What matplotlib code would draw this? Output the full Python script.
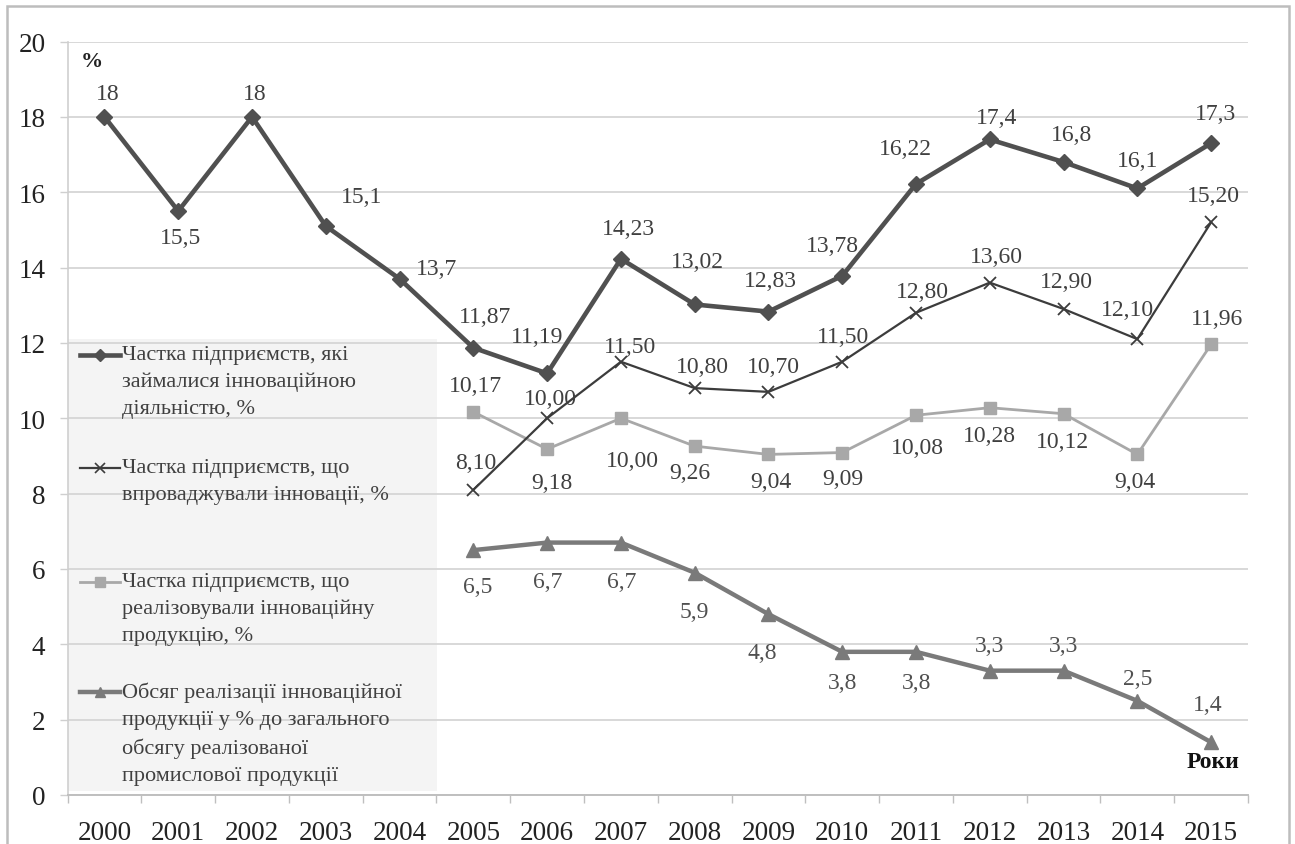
import matplotlib.pyplot as plt
from matplotlib.patches import Rectangle
from matplotlib.lines import Line2D

years = [str(y) for y in range(2000, 2016)]

# частка підприємств, які займалися інноваційною діяльністю (2000-2015)
active = [18, 15.5, 18, 15.1, 13.7, 11.87, 11.19, 14.23, 13.02, 12.83,
          13.78, 16.22, 17.4, 16.8, 16.1, 17.3]
active_lbl = ['18', '15,5', '18', '15,1', '13,7', '11,87', '11,19', '14,23',
              '13,02', '12,83', '13,78', '16,22', '17,4', '16,8', '16,1', '17,3']

# решта рядів починаються з 2005 року
implemented = [8.10, 10.00, 11.50, 10.80, 10.70, 11.50, 12.80, 13.60, 12.90, 12.10, 15.20]
implemented_lbl = ['8,10', '10,00', '11,50', '10,80', '10,70', '11,50', '12,80',
                   '13,60', '12,90', '12,10', '15,20']

sold = [10.17, 9.18, 10.00, 9.26, 9.04, 9.09, 10.08, 10.28, 10.12, 9.04, 11.96]
sold_lbl = ['10,17', '9,18', '10,00', '9,26', '9,04', '9,09', '10,08', '10,28',
            '10,12', '9,04', '11,96']

volume = [6.5, 6.7, 6.7, 5.9, 4.8, 3.8, 3.8, 3.3, 3.3, 2.5, 1.4]
volume_lbl = ['6,5', '6,7', '6,7', '5,9', '4,8', '3,8', '3,8', '3,3', '3,3', '2,5', '1,4']

legend_txt = [
    'Частка підприємств, які\nзаймалися інноваційною\nдіяльністю, %',
    'Частка підприємств, що\nвпроваджували інновації, %',
    'Частка підприємств, що\nреалізовували інноваційну\nпродукцію, %',
    'Обсяг реалізації інноваційної\nпродукції у % до загального\nобсягу реалізованої\nпромислової продукції',
]

# зсуви підписів (пікселі) відносно точок
off_active = [(3, 23), (2, -26), (3, 23), (36, 30), (37, 10), (12, 31), (-10, 37),
              (8, 30), (3, 43), (2, 31), (-10, 30), (-11, 35), (7, 22), (8, 28),
              (0, 28), (4, 30)]
off_impl = [(2, 27), (3, 20), (9, 15), (8, 22), (5, 25), (1, 25), (6, 21),
            (7, 26), (3, 27), (-10, 30), (2, 27)]
off_sold = [(2, 26), (5, -33), (12, -42), (-5, -26), (2, -27), (1, -26), (1, -32),
            (0, -28), (-1, -28), (-2, -27), (6, 26)]
off_vol = [(4, -36), (1, -39), (1, -39), (0, -39), (-6, -38), (0, -31), (1, -31),
           (0, 25), (0, 25), (0, 22), (-3, 38)]

W, H = 1295, 845
plt.rc('font', family=['Liberation Serif', 'DejaVu Serif'])
fig = plt.figure(figsize=(W / 100, H / 100), dpi=100)
ax = fig.add_axes([67.6 / W, 1 - 796 / H, (1248 - 67.6) / W, (796 - 42.5) / H])


def fx(px):
    return px / W


def fy(py):
    return 1 - py / H


x_all = list(range(len(years)))
x_late = x_all[5:]

ax.plot(x_all, active, color='#505050', lw=3.3, marker='D', ms=8.5, zorder=5)
ax.plot(x_late, implemented, color='#3c3c3c', lw=1.6, marker='x', ms=9, mew=1.3, zorder=4)
ax.plot(x_late, sold, color='#a8a8a8', lw=2.0, marker='s', ms=8.5, zorder=3)
ax.plot(x_late, volume, color='#7a7a7a', lw=3.2, marker='^', ms=9.5, zorder=4)

series = [(x_all, active, active_lbl, off_active, '#404040'),
          (x_late, implemented, implemented_lbl, off_impl, '#404040'),
          (x_late, sold, sold_lbl, off_sold, '#404040'),
          (x_late, volume, volume_lbl, off_vol, '#505050')]
for xs, vals, lbls, offs, col in series:
    for xi, v, t, (dx, dy) in zip(xs, vals, lbls, offs):
        ax.annotate(t, (xi, v), xytext=(dx, dy), textcoords='offset pixels',
                    ha='center', va='center', fontsize=17, color=col, zorder=6)

ax.set_xlim(-0.5, 15.5)
ax.set_ylim(0, 20)
ax.set_yticks(range(0, 21, 2))
ax.set_xticks(x_all)
ax.set_xticklabels(years)
ax.set_xticks([i - 0.5 for i in range(17)], minor=True)
ax.tick_params(axis='x', which='major', length=0, pad=18, labelsize=19.5, colors='#222222')
ax.tick_params(axis='x', which='minor', length=6, color='#bfbfbf', width=1)
ax.tick_params(axis='y', length=6, color='#cfcfcf', width=1, pad=10,
               labelsize=19.5, labelcolor='#222222')
ax.grid(axis='y', color='#d6d6d6', lw=1.3)
ax.set_axisbelow(True)
for s in ['top', 'right']:
    ax.spines[s].set_visible(False)
ax.spines['left'].set_color('#cfcfcf')
ax.spines['bottom'].set_color('#bfbfbf')
ax.spines['left'].set_linewidth(1.2)
ax.spines['bottom'].set_linewidth(1.4)

ax.text(fx(92), fy(62), '%', transform=fig.transFigure, fontsize=16,
        fontweight='bold', ha='center', va='center', color='#222222')
ax.text(fx(1213), fy(763), 'Роки', transform=fig.transFigure, fontsize=17,
        fontweight='bold', ha='center', va='center', color='#111111')

# легенда ліворуч усередині області графіка
ax.add_patch(Rectangle((fx(68), fy(792)), fx(437 - 68), (792 - 340) / H,
                       transform=fig.transFigure, facecolor='#f4f4f4',
                       edgecolor='none', zorder=0.2, clip_on=False))
styles = [dict(color='#505050', lw=3.3, marker='D', ms=6),
          dict(color='#3c3c3c', lw=1.6, marker='x', ms=7, mew=1.2),
          dict(color='#a8a8a8', lw=2.0, marker='s', ms=6.5),
          dict(color='#7a7a7a', lw=3.2, marker='^', ms=7)]
rows = [356, 469, 583, 693]
for st, r, t in zip(styles, rows, legend_txt):
    ax.add_line(Line2D([fx(80), fx(100), fx(120)], [fy(r)] * 3,
                       transform=fig.transFigure, markevery=[1], clip_on=False,
                       zorder=6, **st))
    ax.text(fx(122), fy(r - 10), t, transform=fig.transFigure, fontsize=16,
            ha='left', va='top', linespacing=1.55, color='#404040', zorder=6)

# рамка навколо рисунка
fig.add_artist(Rectangle((fx(7), -0.05), fx(1289 - 7), fy(7) + 0.05,
                         transform=fig.transFigure, fill=False,
                         edgecolor='#bdbdbd', lw=1.8))

plt.savefig('out.png', dpi=100)
